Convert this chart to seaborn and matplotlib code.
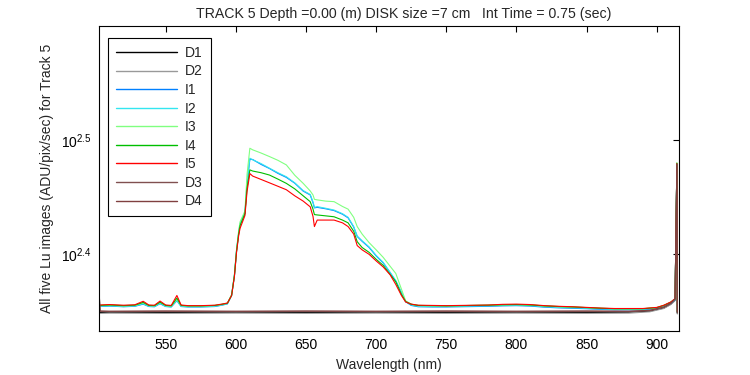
import matplotlib
matplotlib.use("Agg")
import matplotlib.pyplot as plt
import seaborn as sns
import numpy as np
from matplotlib.ticker import NullLocator, FixedLocator, FixedFormatter

# ---------------- data ----------------
wl = [502.6, 510, 520, 528, 534, 538, 542, 546, 550, 554, 558, 561, 566, 575, 585,
      590, 594, 597, 599, 600.5, 602, 603, 606.5, 608, 610,
      612, 618, 624, 630, 636, 642, 648, 653, 655, 656,
      658, 664, 670, 676, 680, 684, 686.5, 690, 695, 700,
      705, 710, 714, 718, 721, 725, 730, 740, 750, 760,
      770, 780, 790, 800, 810, 820, 830, 840, 850, 860,
      870, 880, 890, 900, 905, 910, 913, 914.3, 914.6]

I5 = [226.6, 226.8, 226.5, 226.7, 228.3, 226.6, 226.5, 228.4, 226.6, 226.4, 231.0, 226.6, 226.3, 226.3, 226.5,
      227.0, 227.5, 231.0, 240.0, 252.0, 260.5, 264.5, 271.5, 285.0, 295.5,
      294.0, 292.0, 290.0, 288.0, 286.0, 282.5, 279.5, 276.3, 271.0, 265.5,
      269.0, 269.0, 269.0, 267.5, 265.5, 261.5, 255.5, 253.3, 251.0, 247.7,
      244.7, 240.8, 236.2, 231.0, 228.0, 227.0, 226.5, 226.4, 226.3, 226.4,
      226.5, 226.6, 226.9, 227.0, 226.8, 226.3, 226.0, 225.8, 225.5, 225.2,
      225.0, 225.0, 225.0, 225.5, 226.5, 228.0, 229.5, 301.5, 223.5]

I4 = [226.4, 226.6, 226.3, 226.5, 227.8, 226.4, 226.3, 227.9, 226.4, 226.2, 229.8, 226.4, 226.2, 226.2, 226.4,
      226.9, 227.4, 231.0, 240.5, 252.5, 261.5, 266.0, 272.5, 287.0, 297.7,
      297.0, 296.0, 294.6, 292.2, 289.7, 286.5, 282.5, 279.2, 275.0, 272.0,
      271.8, 271.3, 270.8, 269.0, 267.5, 263.0, 257.5, 254.5, 252.0, 248.5,
      245.5, 241.0, 237.5, 231.5, 228.2, 226.9, 226.4, 226.3, 226.2, 226.3,
      226.4, 226.5, 226.7, 226.8, 226.6, 226.2, 225.9, 225.7, 225.4, 225.1,
      224.9, 224.9, 224.9, 225.4, 226.4, 227.9, 229.4, 301.8, 223.4]

I3 = [226.3, 226.5, 226.2, 226.4, 227.6, 226.3, 226.2, 227.8, 226.3, 226.1, 229.3, 226.3, 226.1, 226.1, 226.3,
      226.8, 227.4, 231.5, 241.0, 253.5, 263.0, 268.0, 274.0, 295.0, 311.0,
      310.0, 308.0, 305.8, 303.5, 300.7, 294.5, 289.7, 285.3, 283.0, 280.5,
      280.2, 279.5, 279.2, 276.5, 275.0, 270.5, 265.5, 261.5, 257.0, 253.3,
      249.5, 245.0, 241.5, 234.0, 228.5, 227.0, 226.3, 226.2, 226.2, 226.3,
      226.4, 226.5, 226.7, 226.8, 226.6, 226.1, 225.8, 225.6, 225.4, 225.1,
      224.9, 224.9, 224.9, 225.4, 226.4, 227.9, 229.4, 302.0, 223.4]

I2 = [226.0, 226.2, 225.9, 226.1, 227.2, 226.0, 225.9, 227.4, 226.0, 225.8, 228.8, 226.0, 225.8, 225.8, 226.0,
      226.6, 227.2, 231.2, 240.6, 253.0, 262.0, 267.0, 273.0, 290.0, 304.8,
      303.8, 301.5, 298.7, 296.0, 293.6, 290.0, 285.5, 283.3, 279.0, 276.0,
      276.4, 275.5, 274.5, 272.5, 270.5, 265.5, 260.5, 258.0, 254.8, 250.5,
      247.0, 242.0, 238.0, 232.5, 228.3, 226.6, 226.0, 225.9, 225.9, 226.0,
      226.1, 226.2, 226.4, 226.5, 226.3, 225.8, 225.5, 225.3, 225.1, 224.8,
      224.6, 224.6, 224.6, 225.1, 226.1, 227.6, 229.1, 301.6, 223.3]

I1 = [225.9, 226.1, 225.8, 226.0, 227.0, 225.9, 225.8, 227.2, 225.9, 225.7, 228.6, 225.9, 225.7, 225.7, 225.9,
      226.5, 227.1, 231.0, 240.4, 252.8, 261.8, 266.8, 272.8, 289.5, 304.2,
      304.0, 301.0, 298.5, 295.6, 293.2, 289.8, 285.2, 283.0, 278.6, 275.7,
      276.0, 275.2, 274.2, 272.2, 270.2, 265.2, 260.2, 257.7, 254.5, 250.2,
      246.7, 241.8, 237.8, 232.3, 228.1, 226.4, 225.8, 225.7, 225.7, 225.8,
      225.9, 226.0, 226.2, 226.3, 226.1, 225.6, 225.3, 225.1, 224.9, 224.6,
      224.4, 224.4, 224.4, 224.9, 225.9, 227.4, 228.9, 301.4, 223.2]

d_wl = [502.6, 503.3, 510, 550, 600, 650, 700, 750, 800, 850, 880, 895, 905, 910, 913, 914.3, 914.6]
D1 = [223.2, 223.2, 223.3, 223.2, 223.3, 223.2, 223.3, 223.2, 223.3, 223.2, 223.3, 223.8, 225.2, 227.0, 228.8, 301.0, 222.8]
D2 = [222.8, 222.8, 222.9, 222.8, 222.9, 222.8, 222.9, 222.8, 222.9, 222.8, 222.9, 223.5, 225.0, 226.8, 228.6, 300.8, 222.5]
D3 = [232.0, 223.7, 223.6, 223.7, 223.6, 223.7, 223.6, 223.7, 223.6, 223.7, 223.6, 224.0, 225.5, 227.3, 229.2, 301.2, 223.0]
D4 = [232.3, 223.9, 223.8, 223.9, 223.8, 223.9, 223.8, 223.9, 223.8, 223.9, 223.8, 224.2, 225.7, 227.5, 229.4, 301.0, 223.2]

names = ["D1", "D2", "I1", "I2", "I3", "I4", "I5", "D3", "D4"]
series = [(d_wl, D1), (d_wl, D2), (wl, I1), (wl, I2), (wl, I3), (wl, I4), (wl, I5), (d_wl, D3), (d_wl, D4)]
colors = ["#000000", "#999999", "#0080ff", "#33e6f0", "#80ff80", "#00bf00", "#ff0000", "#805050", "#804040"]

xticks = [550, 600, 650, 700, 750, 800, 850, 900]
yticks = [10 ** 2.4, 10 ** 2.5]
ytick_labels = ["$10^{2.4}$", "$10^{2.5}$"]

title = "TRACK 5 Depth =0.00 (m) DISK size =7 cm   Int Time = 0.75 (sec)"
xlabel = "Wavelength (nm)"
ylabel = "All five Lu images (ADU/pix/sec) for Track 5"

# ---------------- style ----------------
sns.set_theme(style="white")
plt.rcParams["font.family"] = ["Liberation Sans", "DejaVu Sans"]
plt.rcParams["mathtext.fontset"] = "custom"
plt.rcParams["mathtext.rm"] = "Liberation Sans"
plt.rcParams["mathtext.it"] = "Liberation Sans"
plt.rcParams["mathtext.bf"] = "Liberation Sans"

fig = plt.figure(figsize=(7.5, 3.75), dpi=100)
ax = fig.add_axes([0.132, 0.1173, 0.7737, 0.8134])

for (x, y), n, c in zip(series, names, colors):
    sns.lineplot(x=x, y=y, ax=ax, color=c, lw=0.8, label=n, estimator=None, sort=False)

ax.set_yscale("log")
ax.set_xlim(502.5, 916.0)
ax.set_ylim(215.0, 398.1)

ax.xaxis.set_major_locator(FixedLocator(xticks))
ax.set_xticklabels([str(t) for t in xticks])
ax.yaxis.set_major_locator(FixedLocator(yticks))
ax.yaxis.set_major_formatter(FixedFormatter(ytick_labels))
ax.yaxis.set_minor_locator(NullLocator())
ax.xaxis.set_minor_locator(NullLocator())

ax.tick_params(axis="both", which="major", direction="in", length=4, width=0.8,
               top=True, right=True, labelsize=10, colors="black", pad=5)
for s in ax.spines.values():
    s.set_visible(True)
    s.set_color("black")
    s.set_linewidth(0.8)

ax.set_title(title, fontsize=10.2, pad=6, x=0.5256)
ax.set_xlabel(xlabel, fontsize=10)
ax.set_ylabel(ylabel, fontsize=10)
ax.xaxis.set_label_coords(0.5, -0.088)
ax.yaxis.set_label_coords(-0.0775, 0.5)

leg = ax.legend(loc="upper left", bbox_to_anchor=(0.0155, 0.96), borderaxespad=0,
                fontsize=10, handlelength=4.4, labelspacing=0.33, fancybox=False,
                framealpha=1, edgecolor="black", borderpad=0.55, handletextpad=0.6)
leg.get_frame().set_linewidth(0.8)
for line in leg.get_lines():
    line.set_linewidth(1.0)

fig.savefig("out.png", dpi=100, facecolor="white")
